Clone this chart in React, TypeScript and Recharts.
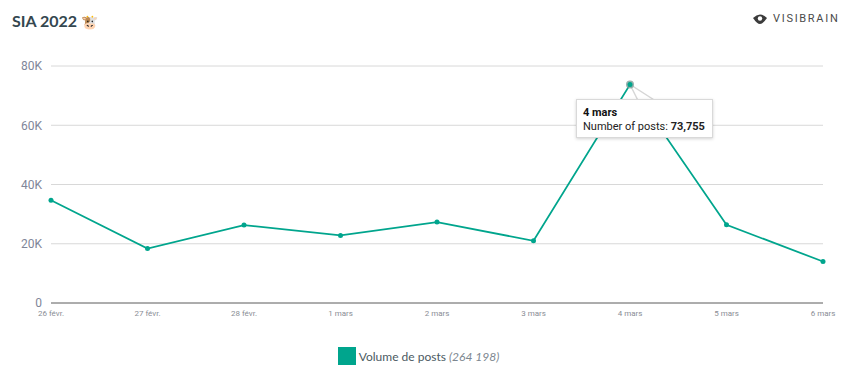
import { LineChart, Line, XAxis, YAxis, CartesianGrid, Tooltip, Legend } from "recharts";

const days = ["26 févr.", "27 févr.", "28 févr.", "1 mars", "2 mars", "3 mars", "4 mars", "5 mars", "6 mars"];
const posts = [34700, 18400, 26300, 22800, 27300, 21000, 73755, 26400, 14000];
const yTicks = [0, 20000, 40000, 60000, 80000];

const TEAL = "#00A58D";
const HOVER_INDEX = 6;

const data = days.map((day, i) => ({ day, posts: posts[i] }));

function fmtK(v: number): string {
  return v === 0 ? "0" : `${v / 1000}K`;
}

// highcharts-like point, hovered one gets a halo and the callout wedge
function PostDot(props: any) {
  const { cx, cy, index } = props;
  if (index !== HOVER_INDEX) {
    return <circle key={index} cx={cx} cy={cy} r={2.5} fill={TEAL} />;
  }
  return (
    <g key={index}>
      <polygon
        points={`${cx},${cy} ${cx + 8},${cy + 16} ${cx + 25},${cy + 16}`}
        fill="#fff"
        stroke="#d6d6d6"
        strokeWidth={1.4}
      />
      <circle cx={cx} cy={cy} r={4} fill="#7f9d98" opacity={0.8} />
      <circle cx={cx} cy={cy} r={2.5} fill={TEAL} />
    </g>
  );
}

function PostTooltip({ payload, label }: any) {
  const v = payload?.[0]?.value ?? posts[HOVER_INDEX];
  return (
    <div
      style={{
        width: 137,
        height: 39,
        boxSizing: "border-box",
        background: "#fff",
        border: "1px solid #d9d9d9",
        boxShadow: "0 1px 3px rgba(0,0,0,0.18)",
        padding: "6px 6px",
        fontFamily: "Roboto",
        fontSize: 11,
        lineHeight: "14px",
        color: "#222",
        whiteSpace: "nowrap",
      }}
    >
      <div style={{ fontWeight: 700, color: "#111" }}>{label}</div>
      <div>
        Number of posts: <b>{v.toLocaleString("en-US")}</b>
      </div>
    </div>
  );
}

function PostLegend() {
  return (
    <div style={{ display: "flex", justifyContent: "center", alignItems: "center", fontFamily: "Lato", fontSize: 12, color: "#4b5a62", paddingLeft: 9 }}>
      <span style={{ width: 18, height: 18, background: TEAL, marginRight: 3 }} />
      <span>
        Volume de posts <i style={{ color: "#7d8790" }}>(264 198)</i>
      </span>
    </div>
  );
}

export default function App() {
  return (
    <div style={{ position: "absolute", left: 0, top: 0, width: 850, height: 373, background: "#fff", overflow: "hidden" }}>
      <div style={{ position: "absolute", left: 12, top: 11, fontFamily: "Lato", fontWeight: 700, fontSize: 16, color: "#34474f" }}>
        SIA 2022 <span style={{ fontSize: 14 }}>🐮</span>
      </div>
      <div style={{ position: "absolute", left: 753, top: 12, display: "flex", alignItems: "center", fontFamily: "Roboto", fontSize: 11, letterSpacing: 1.7, color: "#4a4a4a" }}>
        <svg width={14} height={10} viewBox="0 0 14 10" style={{ marginRight: 6 }}>
          <path d="M0 4 Q7 -3 14 4 Q10 10 7 10 Q4 10 0 4 Z" fill="#3b3b3b" />
          <circle cx={7} cy={4.5} r={2.2} fill="#fff" />
        </svg>
        VISIBRAIN
      </div>
      <LineChart width={850} height={373} data={data} margin={{ top: 66, right: 27, bottom: 32, left: 5 }}>
        <CartesianGrid horizontal vertical={false} stroke="#d8d8d8" />
        <XAxis
          dataKey="day"
          interval={0}
          padding={{ left: 0, right: 0 }}
          height={20}
          tickLine={false}
          axisLine={{ stroke: "#6f6f6f", strokeWidth: 1 }}
          tick={{ fontSize: 8, fill: "#8a8d95", fontFamily: "Roboto" }}
          tickMargin={1}
        />
        <YAxis
          width={46}
          domain={[0, 80000]}
          ticks={yTicks}
          tickFormatter={fmtK}
          tickLine={false}
          axisLine={false}
          tick={{ fontSize: 12, fill: "#7f8699", fontFamily: "Roboto" }}
          tickMargin={3}
        />
        <Line
          dataKey="posts"
          type="linear"
          stroke={TEAL}
          strokeWidth={1.75}
          dot={PostDot}
          activeDot={false}
          isAnimationActive={false}
        />
        <Tooltip
          active
          defaultIndex={HOVER_INDEX}
          content={PostTooltip}
          cursor={false}
          position={{ x: 576, y: 99 }}
          isAnimationActive={false}
          wrapperStyle={{ zIndex: 5 }}
        />
        <Legend content={PostLegend} verticalAlign="bottom" wrapperStyle={{ bottom: 8 }} />
      </LineChart>
    </div>
  );
}
